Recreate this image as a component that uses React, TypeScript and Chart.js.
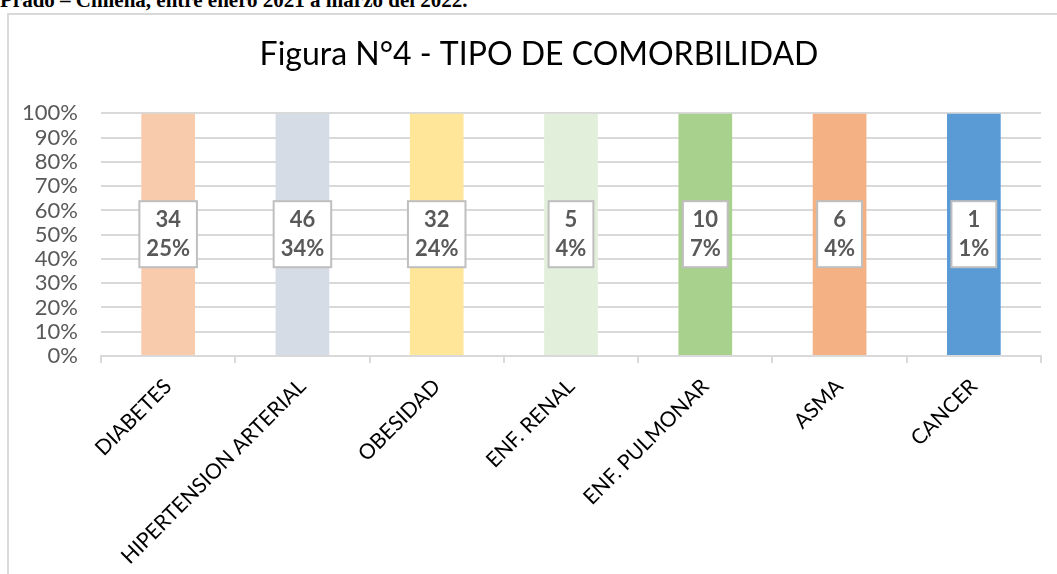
import React, { useEffect, useRef } from "react";
import { Chart, registerables } from "chart.js";

Chart.register(...registerables);

const headerText = "Prado – Chilena, entre enero 2021 a marzo del 2022.";
const chartTitle = "Figura N°4 - TIPO DE COMORBILIDAD";
const categories = [
  "DIABETES",
  "HIPERTENSION ARTERIAL",
  "OBESIDAD",
  "ENF. RENAL",
  "ENF. PULMONAR",
  "ASMA",
  "CANCER",
];
const counts = [34, 46, 32, 5, 10, 6, 1];
const percentLabels = ["25%", "34%", "24%", "4%", "7%", "4%", "1%"];
// 100% stacked column: each column fills the whole axis
const stackedShare = [100, 100, 100, 100, 100, 100, 100];
const barColors = ["#F8CBAD", "#D6DCE5", "#FFE699", "#E2EFDA", "#A9D18E", "#F4B183", "#5B9BD5"];

const boxLabels = {
  id: "boxLabels",
  afterDatasetsDraw(chart: any) {
    const meta = chart.getDatasetMeta(0);
    const ctx = chart.ctx as CanvasRenderingContext2D;
    ctx.save();
    ctx.font = "bold 22px Lato";
    ctx.textAlign = "center";
    ctx.textBaseline = "middle";
    meta.data.forEach((bar: any, i: number) => {
      const { x, y, base } = bar.getProps(["x", "y", "base"], true);
      const cy = (y + base) / 2;
      const l1 = String(counts[i]);
      const l2 = percentLabels[i];
      const w = Math.max(ctx.measureText(l1).width, ctx.measureText(l2).width) + 14;
      const h = 66;
      ctx.fillStyle = "#ffffff";
      ctx.fillRect(x - w / 2, cy - h / 2, w, h);
      ctx.strokeStyle = "#bfbfbf";
      ctx.lineWidth = 2;
      ctx.strokeRect(x - w / 2, cy - h / 2, w, h);
      ctx.fillStyle = "#595959";
      ctx.fillText(l1, x, cy - 14.5);
      ctx.fillText(l2, x, cy + 14.5);
    });
    ctx.restore();
  },
};

// let the y tick labels extend left of the axis box (avoid clipping "100%")
const unclipY = {
  id: "unclipY",
  afterLayout(chart: any) {
    if (chart.scales.y) chart.scales.y.left = 0;
  },
};

export default function App() {
  const ref = useRef<HTMLCanvasElement | null>(null);

  useEffect(() => {
    if (!ref.current) return;
    const chart = new Chart(ref.current, {
      type: "bar",
      data: {
        labels: categories,
        datasets: [
          {
            data: stackedShare,
            backgroundColor: barColors,
            barPercentage: 0.4,
            categoryPercentage: 1,
          },
        ],
      },
      options: {
        responsive: false,
        animation: false,
        layout: { padding: { left: 37, right: 16, top: 20, bottom: 0 } },
        plugins: {
          legend: { display: false },
          tooltip: { enabled: false },
          title: {
            display: true,
            text: chartTitle,
            color: "#000000",
            font: { family: "Lato", size: 32, weight: "normal" },
            padding: { top: 15, bottom: 40 },
          },
        },
        scales: {
          x: {
            grid: {
              drawOnChartArea: false,
              color: "#d9d9d9",
              lineWidth: 2,
              tickLength: 7,
              offset: true,
            },
            border: { color: "#d9d9d9", width: 2 },
            ticks: {
              autoSkip: false,
              maxRotation: 45,
              minRotation: 45,
              color: "#000000",
              font: { family: "Lato", size: 21 },
              padding: 11,
            },
            afterFit: (s: any) => {
              s.height = 218;
            },
          },
          y: {
            min: 0,
            max: 100,
            ticks: {
              autoSkip: false,
              stepSize: 10,
              callback: (v: any) => v + "%",
              color: "#595959",
              font: { family: "Lato", size: 22 },
              padding: 23,
            },
            grid: { color: "#d9d9d9", lineWidth: 2, drawTicks: false },
            border: { display: false },
            afterFit: (s: any) => {
              s.width = 64;
            },
          },
        },
      },
      plugins: [boxLabels, unclipY],
    });
    return () => chart.destroy();
  }, []);

  return (
    <div style={{ position: "fixed", left: 0, top: 0, width: 1057, height: 574, overflow: "hidden", background: "#fff" }}>
      <div
        style={{
          position: "absolute",
          left: 0,
          top: -10,
          fontFamily: "'Liberation Serif', serif",
          fontWeight: "bold",
          fontSize: 21,
          lineHeight: "21px",
          whiteSpace: "nowrap",
          color: "#000",
        }}
      >
        {headerText}
      </div>
      <div
        style={{
          position: "absolute",
          left: 7,
          top: 13,
          width: 1100,
          height: 620,
          border: "2px solid #d9d9d9",
          boxSizing: "border-box",
        }}
      />
      <canvas ref={ref} width={1057} height={574} style={{ position: "absolute", left: 0, top: 0 }} />
    </div>
  );
}
